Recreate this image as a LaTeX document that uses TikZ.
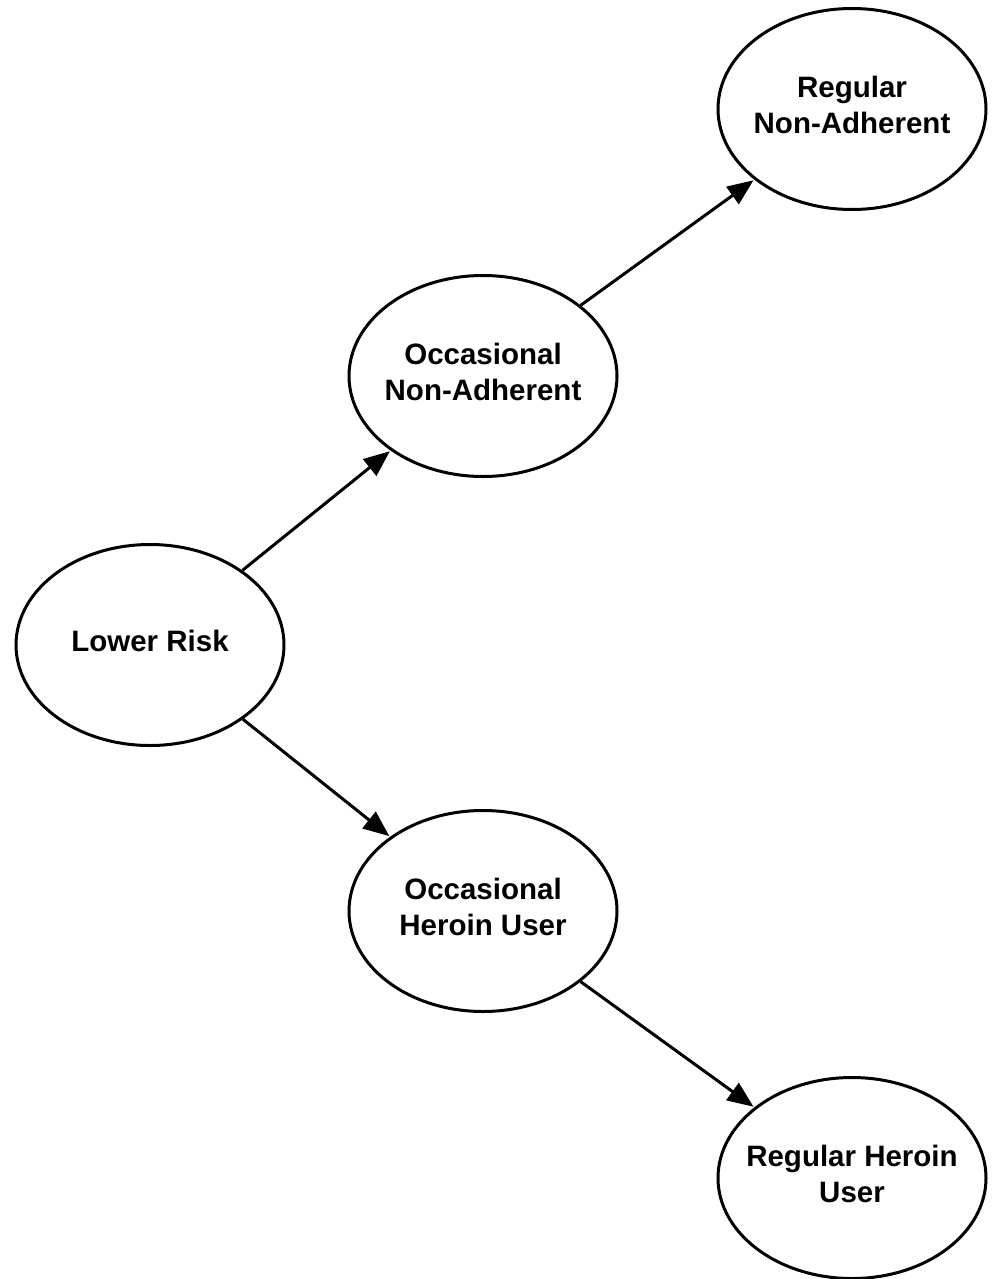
\documentclass[tikz,border=0pt]{standalone}
\usepackage{fontspec}
\setmainfont{Liberation Sans}
\usetikzlibrary{shapes.geometric,arrows.meta}
\begin{document}
\begin{tikzpicture}[x=1pt,y=-1pt,
  state/.style={ellipse,draw=black,line width=3pt,minimum width=268pt,minimum height=201pt,inner sep=0pt},
  lbl/.style={font=\fontsize{29.5}{36}\selectfont\bfseries,align=center,inner sep=0pt,yshift=4pt},
  conn/.style={line width=3pt,-{Triangle[length=26pt,width=21pt]},shorten >=1pt}]
\useasboundingbox (0,0) rectangle (995,1279);
\node[state] (rna) at (852,109) {};
\node[state] (ona) at (483,376) {};
\node[state] (lr) at (150,645) {};
\node[state] (ohu) at (483,911) {};
\node[state] (rhu) at (852,1178) {};
\node[lbl] (rnat) at (rna) {Regular\\Non-Adherent};
\node[lbl] (onat) at (ona) {Occasional\\Non-Adherent};
\node[lbl] (lrt) at (lr) {Lower Risk};
\node[lbl] (ohut) at (ohu) {Occasional\\Heroin User};
\node[lbl] (rhut) at (rhu) {Regular Heroin\\User};
\draw[conn] (lr) -- (ona);
\draw[conn] (ona) -- (rna);
\draw[conn] (lr) -- (ohu);
\draw[conn] (ohu) -- (rhu);
\end{tikzpicture}
\end{document}
